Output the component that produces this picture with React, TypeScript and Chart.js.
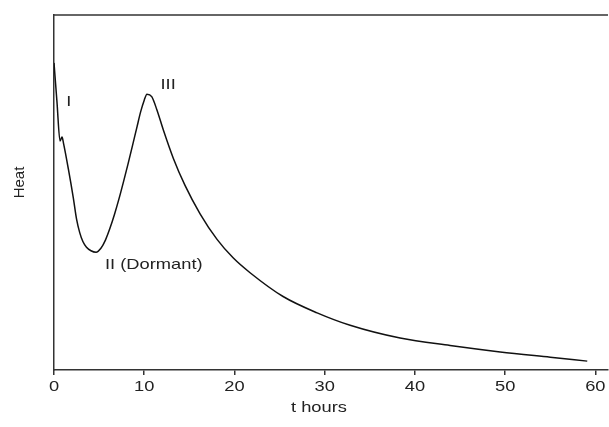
import React, { useEffect, useRef } from "react";
import { Chart, registerables } from "chart.js";

Chart.register(...registerables);

// Heat-flow curve (t hours vs relative heat, arbitrary units 0..100)
const hours: number[] = [
  0, 0.33, 0.67, 0.89, 1.05, 1.6, 2.14, 2.5, 2.85, 3.2, 3.6, 4.1, 4.66,
  5.2, 5.7, 6.2, 6.7, 7.2, 7.7, 8.2, 8.7, 9.2, 9.6, 10.0, 10.3,
  10.83, 11.39, 12.12, 13.23, 14.52, 16.19, 18.07, 19.85, 21.73, 25.39, 29.16, 32.82,
  38.36, 43.9, 49.45, 55.0, 59.1,
];
const heat: number[] = [
  86.5, 75.5, 64.5, 65.6, 63.9, 56.5, 48.5, 42.5, 38.7, 36.2, 34.6, 33.6, 33.2,
  34.3, 36.6, 39.9, 43.8, 48.2, 53.0, 58.0, 63.2, 68.5, 72.7, 76.0, 77.7,
  77.0, 73.4, 67.6, 59.6, 52.0, 44.0, 36.8, 31.6, 27.4, 20.7, 16.1, 12.6,
  9.0, 6.9, 5.1, 3.6, 2.5,
];
const xTicks: number[] = [0, 10, 20, 30, 40, 50, 60];
const labelTexts: string[] = ["I", "II (Dormant)", "III"];
const labelX: number[] = [1.35, 5.65, 11.8];
const labelY: number[] = [75.5, 29.7, 80.3];
const xTitle = "t hours";
const yTitle = "Heat";

const FONT = "'Liberation Sans', Arial, Helvetica, sans-serif";
const INK = "#222222";
const STRETCH = 1.22;

function stretchedText(ctx: CanvasRenderingContext2D, text: string, cx: number, cy: number, align: "left" | "center") {
  ctx.save();
  ctx.translate(cx, cy);
  ctx.scale(STRETCH, 1);
  ctx.textAlign = align;
  ctx.textBaseline = "middle";
  ctx.fillText(text, 0, 0);
  ctx.restore();
}

export default function App() {
  const ref = useRef<HTMLCanvasElement | null>(null);

  useEffect(() => {
    document.body.style.margin = "0";
    const canvas = ref.current;
    if (!canvas) return;

    const framePlugin = {
      id: "frame",
      afterDatasetsDraw(chart: any) {
        const { ctx, chartArea, scales } = chart;
        ctx.save();
        ctx.strokeStyle = "#333333";
        ctx.lineWidth = 1.5;
        ctx.beginPath();
        ctx.moveTo(chartArea.left, chartArea.top);
        ctx.lineTo(chartArea.right, chartArea.top);
        ctx.stroke();
        ctx.fillStyle = INK;
        ctx.font = `15px ${FONT}`;
        // annotations
        for (let i = 0; i < labelTexts.length; i++) {
          stretchedText(ctx, labelTexts[i], scales.x.getPixelForValue(labelX[i]), scales.y.getPixelForValue(labelY[i]), "left");
        }
        // x tick labels
        const axisY = chartArea.bottom;
        for (const t of scales.x.ticks) {
          stretchedText(ctx, String(t.value), scales.x.getPixelForValue(t.value), axisY + 17, "center");
        }
        // x title
        stretchedText(ctx, xTitle, (chartArea.left + chartArea.right) / 2 - 12, axisY + 38, "center");
        // y title (rotated)
        ctx.save();
        ctx.translate(20, (chartArea.top + chartArea.bottom) / 2 - 10);
        ctx.rotate(-Math.PI / 2);
        ctx.textAlign = "center";
        ctx.textBaseline = "middle";
        ctx.fillText(yTitle, 0, 0);
        ctx.restore();
        ctx.restore();
      },
    };

    const chart = new Chart(canvas, {
      type: "line",
      data: {
        datasets: [
          {
            data: hours.map((h, i) => ({ x: h, y: heat[i] })),
            borderColor: "#111111",
            borderWidth: 1.5,
            pointRadius: 0,
            fill: false,
            cubicInterpolationMode: "monotone",
          },
        ],
      },
      options: {
        animation: false,
        responsive: false,
        maintainAspectRatio: false,
        layout: { padding: { top: 15, right: 1, left: 0, bottom: 0 } },
        plugins: { legend: { display: false }, tooltip: { enabled: false } },
        scales: {
          x: {
            type: "linear",
            min: 0,
            max: 61.4,
            afterBuildTicks: (scale: any) => {
              scale.ticks = xTicks.map((v) => ({ value: v }));
            },
            afterFit: (scale: any) => {
              scale.height = 57;
            },
            grid: { display: true, drawOnChartArea: false, drawTicks: true, tickLength: 5, color: "#333333", lineWidth: 1.5 },
            border: { display: true, color: "#333333", width: 1.5 },
            ticks: { display: false },
            title: { display: false },
          },
          y: {
            min: 0,
            max: 100,
            afterFit: (scale: any) => {
              scale.width = 54;
            },
            grid: { display: false },
            border: { display: true, color: "#333333", width: 1.5 },
            ticks: { display: false },
            title: { display: false },
          },
        },
      },
      plugins: [framePlugin],
    } as any);

    return () => chart.destroy();
  }, []);

  return (
    <div style={{ position: "absolute", left: 0, top: 0, width: 609, height: 427 }}>
      <canvas ref={ref} width={609} height={427} style={{ display: "block" }} />
    </div>
  );
}
